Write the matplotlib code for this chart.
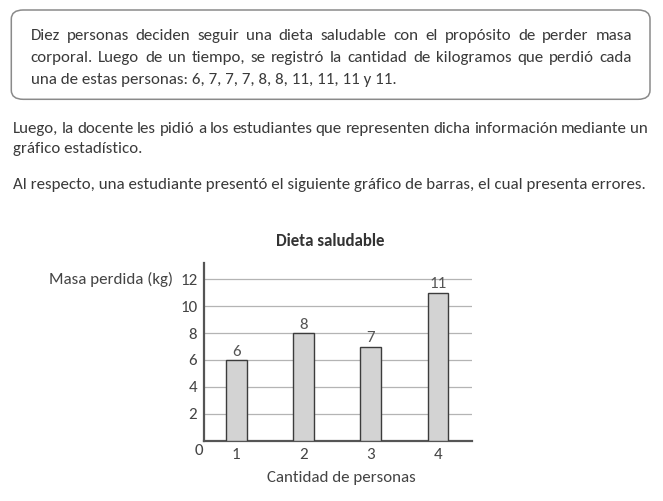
import matplotlib
matplotlib.use("Agg")
import matplotlib.pyplot as plt
from matplotlib.patches import FancyBboxPatch
from matplotlib import font_manager as fm

# ---------------- data ----------------
categories = [1, 2, 3, 4]
values = [6, 8, 7, 11]
value_labels = ["6", "8", "7", "11"]
yticks = [2, 4, 6, 8, 10, 12]
title = "Dieta saludable"
ylabel = "Masa perdida (kg)"
xlabel = "Cantidad de personas"

box_lines = [
    "Diez personas deciden seguir una dieta saludable con el propósito de perder masa",
    "corporal. Luego de un tiempo, se registró la cantidad de kilogramos que perdió cada",
    "una de estas personas: 6, 7, 7, 7, 8, 8, 11, 11, 11 y 11.",
]
para1_lines = [
    "Luego, la docente les pidió a los estudiantes que representen dicha información mediante un",
    "gráfico estadístico.",
]
para2_lines = [
    "Al respecto, una estudiante presentó el siguiente gráfico de barras, el cual presenta errores.",
]

W, H = 663, 501
available = {f.name for f in fm.fontManager.ttflist}
FONT = next((f for f in ["Carlito", "Lato"] if f in available), "DejaVu Sans")
TXT = "#3a3a3a"
CH = "#444444"

fig = plt.figure(figsize=(W / 100, H / 100), dpi=100)
fig.patch.set_facecolor("white")
renderer = fig.canvas.get_renderer()


def fx(x):
    return x / W


def fy(y):
    return 1 - y / H


def width_px(s, fs, weight="normal"):
    t = fig.text(0, 0, s, fontsize=fs, family=FONT, weight=weight)
    w = t.get_window_extent(renderer).width
    t.remove()
    return w


# font size for body text: fit reference width
ref_w = width_px(para2_lines[0], 10)
body_fs = 10 * 631 / ref_w


def draw_line(s, x0, x1, yb, fs, justify):
    words = s.split(" ")
    if not justify:
        fig.text(fx(x0), fy(yb), s, fontsize=fs, family=FONT, color=TXT,
                 ha="left", va="baseline")
        return
    ws = [width_px(w, fs) for w in words]
    gap = (x1 - x0 - sum(ws)) / (len(words) - 1)
    x = x0
    for w, wd in zip(words, ws):
        fig.text(fx(x), fy(yb), w, fontsize=fs, family=FONT, color=TXT,
                 ha="left", va="baseline")
        x += wd + gap


# rounded box
box = FancyBboxPatch((fx(11.3), fy(99.3)), fx(650) - fx(11.3), fy(10) - fy(99.3),
                     boxstyle="round,pad=0,rounding_size=0.018",
                     transform=fig.transFigure, facecolor="white",
                     edgecolor="#8a8a8a", linewidth=1.1)
fig.patches.append(box)

box_base = [40.0, 62.0, 84.0]
for i, (s, yb) in enumerate(zip(box_lines, box_base)):
    draw_line(s, 30.5, 632, yb, body_fs, justify=(i < len(box_lines) - 1))

p1_base = [133.0, 153.0]
for i, (s, yb) in enumerate(zip(para1_lines, p1_base)):
    draw_line(s, 13, 648, yb, body_fs, justify=(i < len(para1_lines) - 1))

for s in para2_lines:
    draw_line(s, 13, 648, 189.0, body_fs, justify=False)

# ---------------- chart ----------------
chart_fs = 10 * 149 / width_px(xlabel, 10)

ax = fig.add_axes([fx(204.3), fy(440.7), fx(471.7) - fx(204.3), fy(263) - fy(440.7)])
ax.set_xlim(0.524, 4.505)
ax.set_ylim(0, 13.21)
for v in yticks:
    ax.axhline(v, color="#b4b4b4", linewidth=0.9, zorder=1)
ax.bar(categories, values, width=0.305, color="#d3d3d3", edgecolor="#3c3c3c",
       linewidth=1.0, zorder=3)
for xi, v, lab in zip(categories, values, value_labels):
    ax.annotate(lab, (xi, v), xytext=(0, 1.0), textcoords="offset points",
                ha="center", va="bottom", fontsize=chart_fs, family=FONT, color="#555555")

for sp in ["top", "right"]:
    ax.spines[sp].set_visible(False)
for sp in ["left", "bottom"]:
    ax.spines[sp].set_color("#555555")
    ax.spines[sp].set_linewidth(1.6)

ax.set_yticks(yticks)
ax.set_yticklabels([str(v) for v in yticks])
ax.set_xticks(categories)
ax.set_xticklabels([str(c) for c in categories])
ax.tick_params(axis="both", length=0, labelsize=chart_fs, labelcolor=CH)
ax.tick_params(axis="y", pad=5)
ax.tick_params(axis="x", pad=5)
for lab in ax.get_xticklabels() + ax.get_yticklabels():
    lab.set_family(FONT)

# zero label at origin corner
ax.text(-0.006, -0.06, "0", transform=ax.transAxes, ha="right", va="center",
        fontsize=chart_fs, family=FONT, color=CH)

fig.text(fx(330), fy(241.5), title, ha="center", va="center",
         fontsize=chart_fs, family=FONT, weight="bold", color="#333333")
fig.text(fx(49), fy(279.3), ylabel, ha="left", va="center",
         fontsize=chart_fs, family=FONT, color=CH)
fig.text(fx(341.7), fy(478), xlabel, ha="center", va="center",
         fontsize=chart_fs, family=FONT, color=CH)

fig.savefig("out.png", dpi=100, facecolor="white")
